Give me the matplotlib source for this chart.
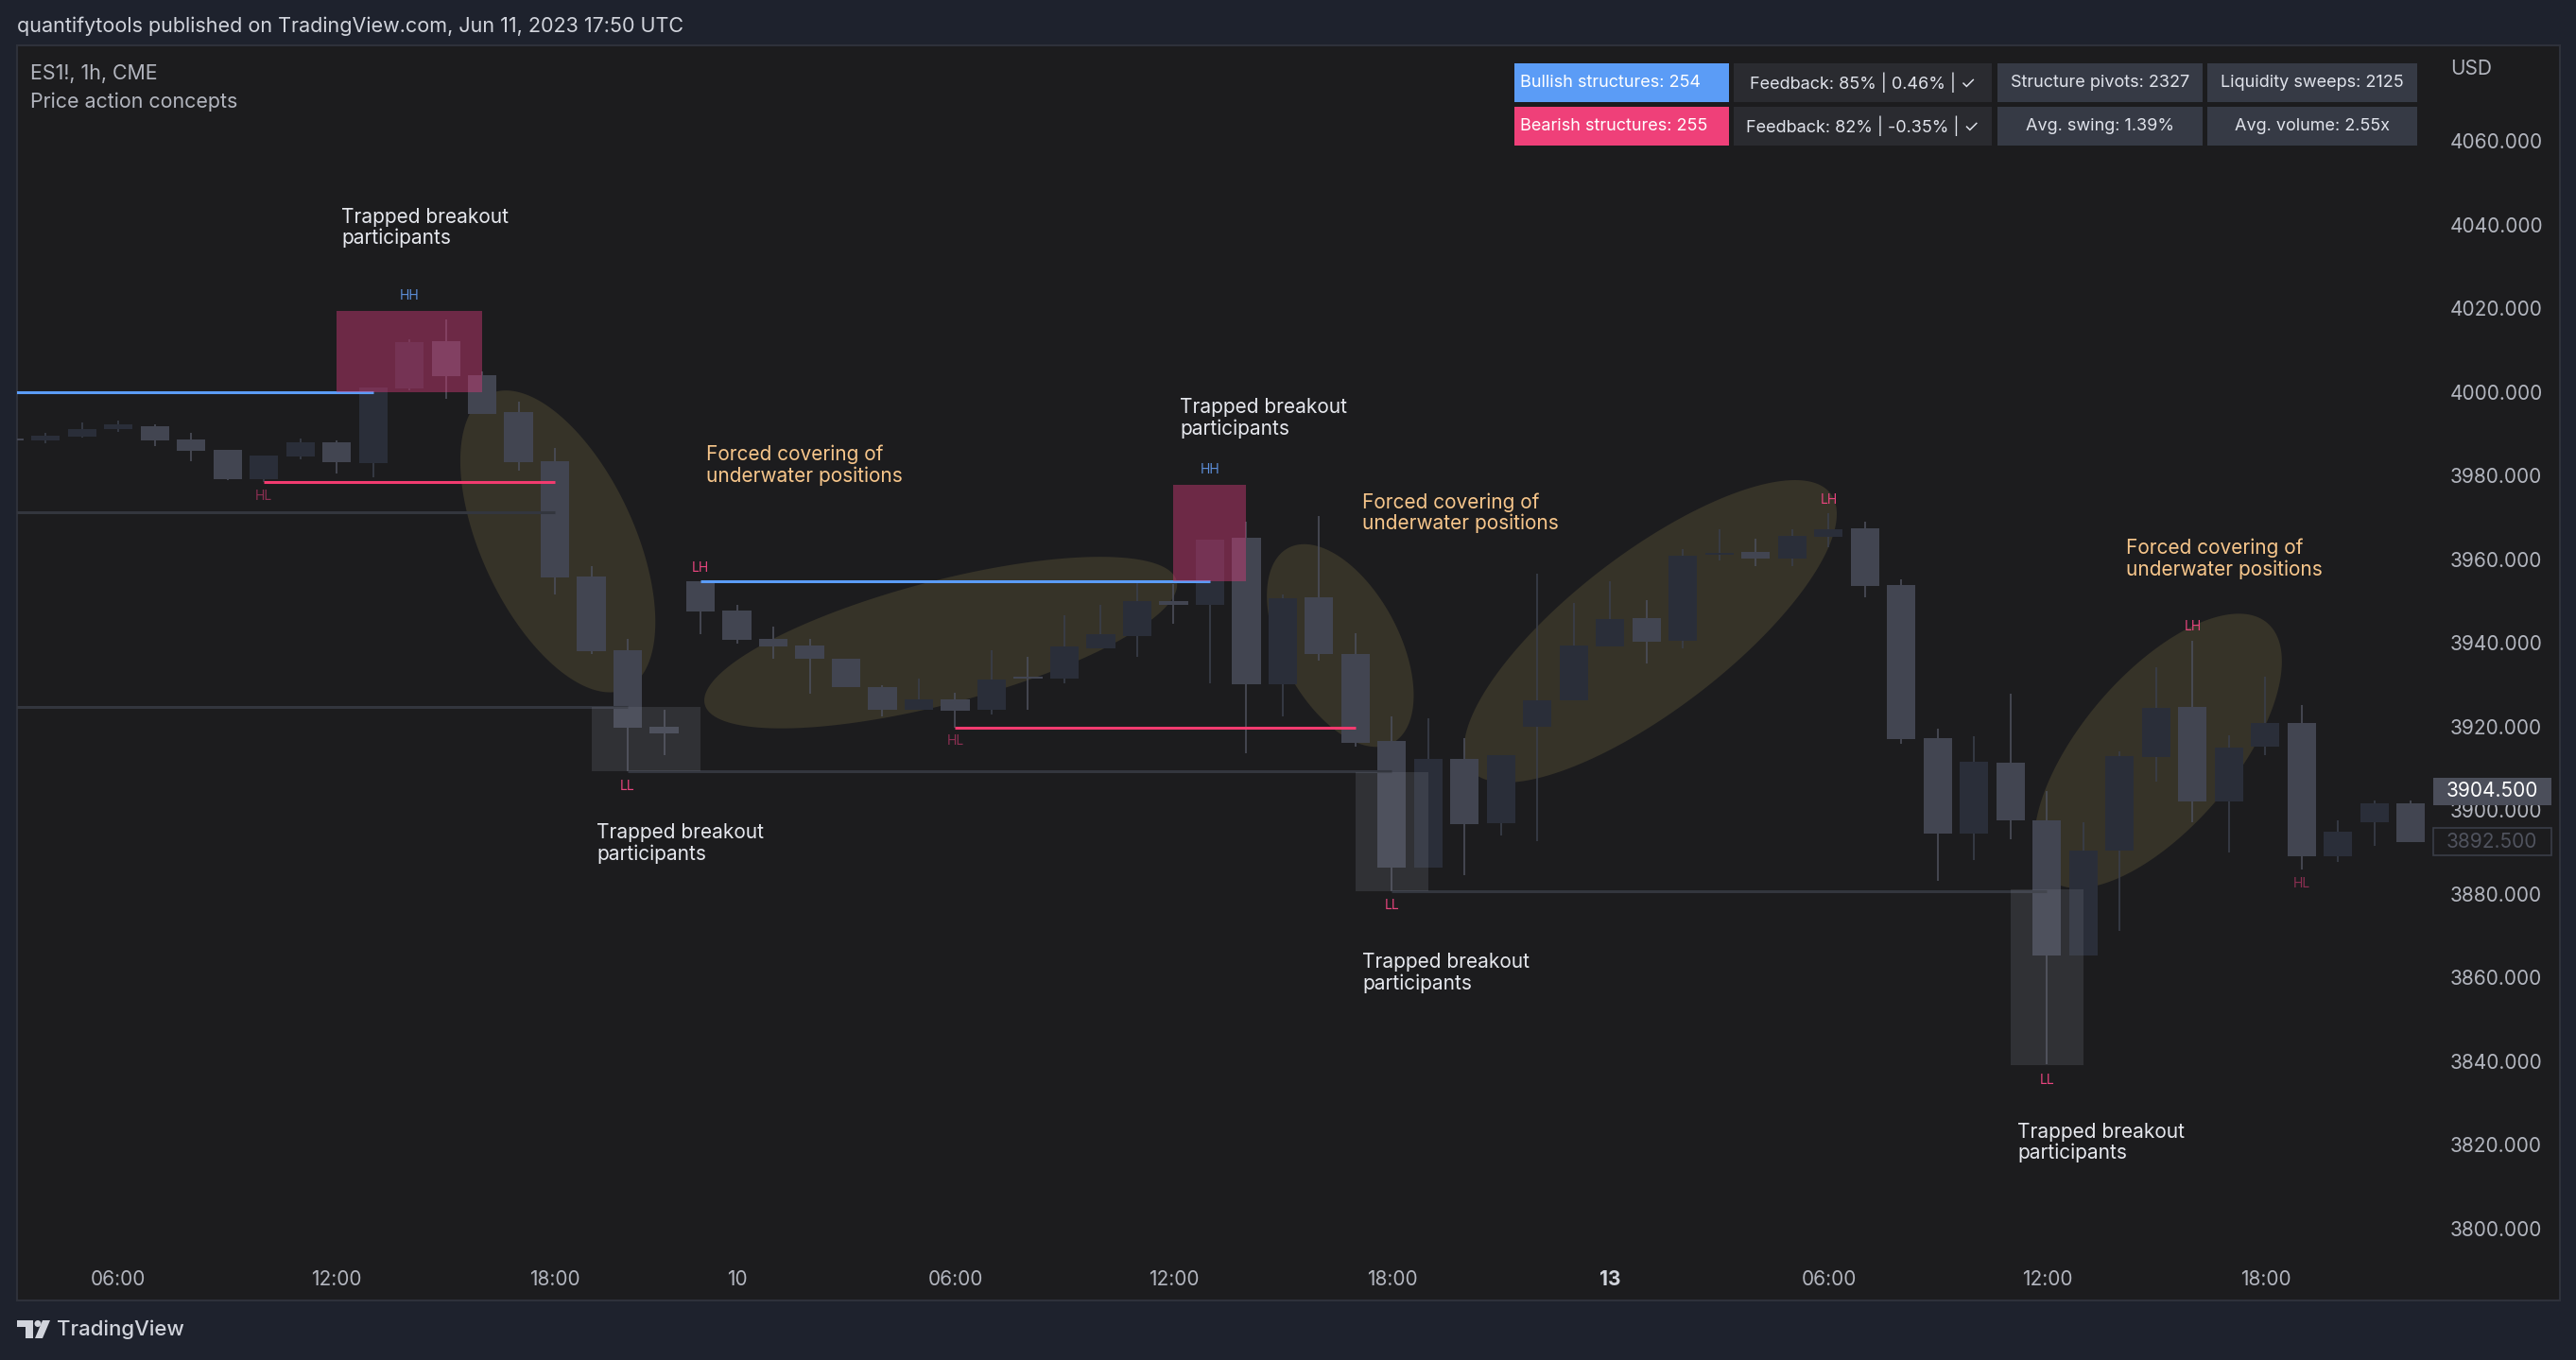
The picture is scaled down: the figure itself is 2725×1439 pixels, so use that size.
import numpy as np
import matplotlib
matplotlib.use("Agg")
import matplotlib.pyplot as plt
from matplotlib.patches import Rectangle, Polygon, Circle
from matplotlib import transforms

plt.rcParams['font.family'] = ['Inter', 'DejaVu Sans']

W, H = 2725, 1439

# ---- candles (1h bars, index 0 = first 06:00) ----
bars = list(range(-3, 64))
opens = [3988.6, 3988.5, 3989.3, 3991.2, 3991.8, 3988.7, 3986.2, 3979.2, 3984.7, 3988.0,
         3983.1, 4000.9, 4012.2, 4004.0, 3995.2, 3983.5, 3955.9, 3938.3, 3920.0, 3954.8,
         3947.8, 3941.0, 3939.5, 3936.2, 3929.4, 3924.0, 3926.6, 3924.1, 3932.0, 3931.6,
         3938.7, 3941.7, 3950.0, 3949.2, 3965.2, 3930.2, 3950.9, 3937.4, 3916.6, 3886.4,
         3912.3, 3896.9, 3919.9, 3926.3, 3939.1, 3946.0, 3940.5, 3961.1, 3961.8, 3960.1,
         3965.3, 3967.5, 3953.8, 3917.2, 3894.4, 3911.4, 3897.7, 3865.2, 3890.3, 3912.8,
         3924.8, 3902.2, 3915.2, 3920.9, 3889.0, 3897.2, 3901.7]
highs = [3988.6, 3990.3, 3992.7, 3993.2, 3992.3, 3990.3, 3986.2, 3984.8, 3988.9, 3988.5,
         4001.2, 4012.6, 4017.4, 4005.0, 3997.6, 3986.7, 3958.4, 3941.1, 3924.0, 3954.8,
         3949.2, 3943.9, 3941.1, 3936.2, 3929.9, 3931.4, 3928.2, 3938.2, 3936.6, 3946.6,
         3949.2, 3955.0, 3954.0, 3964.7, 3968.9, 3951.5, 3970.4, 3942.3, 3922.5, 3922.0,
         3917.3, 3913.2, 3956.6, 3949.6, 3954.8, 3950.3, 3962.5, 3967.2, 3964.9, 3967.2,
         3971.0, 3969.0, 3955.2, 3919.5, 3917.8, 3927.9, 3904.6, 3897.2, 3914.0, 3934.2,
         3940.5, 3918.0, 3931.9, 3925.1, 3897.7, 3902.4, 3902.4]
lows = [3988.4, 3987.7, 3989.1, 3990.4, 3987.1, 3983.5, 3978.9, 3978.5, 3983.9, 3980.5,
        3979.7, 4000.5, 3998.4, 3994.8, 3981.3, 3951.6, 3937.4, 3909.3, 3913.1, 3942.1,
        3939.9, 3936.2, 3927.8, 3929.4, 3922.5, 3924.0, 3919.7, 3922.9, 3924.1, 3930.4,
        3938.7, 3936.8, 3944.5, 3930.4, 3913.6, 3922.5, 3935.8, 3915.2, 3880.7, 3886.4,
        3884.6, 3893.9, 3892.7, 3926.3, 3939.1, 3935.2, 3938.8, 3959.8, 3958.3, 3958.3,
        3962.9, 3951.0, 3915.9, 3883.2, 3888.1, 3893.1, 3839.3, 3865.2, 3871.1, 3906.8,
        3897.2, 3890.0, 3913.2, 3885.9, 3887.6, 3891.6, 3892.3]
closes = [3988.4, 3989.6, 3991.2, 3992.3, 3988.4, 3986.0, 3979.2, 3984.8, 3988.0, 3983.3,
          4001.2, 4011.9, 4003.9, 3994.8, 3983.3, 3955.7, 3938.1, 3919.8, 3918.4, 3947.6,
          3940.8, 3939.2, 3936.2, 3929.4, 3924.1, 3926.6, 3923.9, 3931.3, 3931.6, 3939.1,
          3942.1, 3950.0, 3949.2, 3964.7, 3930.2, 3950.7, 3937.3, 3916.2, 3886.4, 3912.3,
          3896.7, 3913.2, 3926.3, 3939.5, 3945.8, 3940.4, 3960.9, 3961.6, 3960.3, 3965.6,
          3967.2, 3953.6, 3917.1, 3894.4, 3911.5, 3897.6, 3865.2, 3890.3, 3913.0, 3924.6,
          3902.2, 3915.0, 3920.8, 3889.0, 3895.0, 3901.6, 3892.3]

tick_bars = [0, 6, 12, 17, 23, 29, 35, 41, 47, 53, 59]
tick_labels = ['06:00', '12:00', '18:00', '10', '06:00', '12:00', '18:00', '13',
               '06:00', '12:00', '18:00']
price_ticks = list(range(3800, 4061, 20))

# market structure labels
struct_names = ['HH', 'HL', 'LL', 'LH', 'HL', 'HH', 'LL', 'LH', 'LL', 'LH', 'HL']
struct_bars = [8, 4, 14, 16, 23, 30, 35, 47, 53, 57, 60]
struct_prices = [4023.0, 3975.0, 3905.8, 3958.0, 3916.5, 3981.4, 3877.3, 3974.3,
                 3835.5, 3944.0, 3882.4]

# structure levels
level_start = [-4, 4, -4, -4, 14, 16, 23, 35]
level_end = [7, 12, 12, 14, 35, 30, 34, 53]
level_price = [4000.0, 3978.5, 3971.3, 3924.8, 3909.3, 3954.8, 3919.7, 3880.7]
level_kind = ['bull', 'bear', 'flat', 'flat', 'flat', 'bull', 'bear', 'flat']

# trapped zones
box_start = [6, 29, 13, 34, 52]
box_end = [10, 31, 16, 36, 54]
box_low = [4000.0, 3954.8, 3909.3, 3880.7, 3839.1]
box_high = [4019.5, 3977.9, 3924.8, 3909.2, 3881.0]
box_kind = ['hh', 'hh', 'll', 'll', 'll']

# text notes
trap_bars = [6.13, 29.17, 13.14, 34.18, 52.18]
trap_prices = [4039.3, 3993.8, 3892.1, 3861.1, 3820.6]
forced_bars = [16.15, 34.18, 55.17]
forced_prices = [3982.5, 3971.1, 3960.1]

# highlighted ellipses: centre bar, centre price, semi axes (px), angle
zone_bar = [12.08, 22.6, 33.58, 42.1, 56.05]
zone_price = [3964.3, 3940.1, 3939.4, 3942.8, 3914.2]
zone_a = [172, 258, 117, 240, 178]
zone_b = [81, 65, 62, 83, 81]
zone_ang = [-65.1, 14.7, -61.9, 37.4, 49.5]

table_row1 = ["Bullish structures: 254", "Feedback: 85% | 0.46% | \u2713",
              "Structure pivots: 2327", "Liquidity sweeps: 2125"]
table_row2 = ["Bearish structures: 255", "Feedback: 82% | -0.35% | \u2713",
              "Avg. swing: 1.39%", "Avg. volume: 2.55x"]

last_prices = [3904.5, 3892.5]

# ---- colours ----
BG_OUT = '#1e222d'
BG = '#1c1c1e'
BEAR = '#424551'
BULL = '#2a2e39'
WICK_BEAR = '#4b4e5a'
WICK_BULL = '#3a3e4a'
BLUE = '#5b9cf6'
PINK = '#f23b6f'
GRAYLINE = '#33363e'
ZONE = '#363328'
TXT = '#d1d4dc'
AXTXT = '#b2b5be'
ORANGE = '#f7c68b'

fig = plt.figure(figsize=(W / 100, H / 100), dpi=100, facecolor=BG_OUT)
pix = transforms.Affine2D().scale(1 / W, -1 / H).translate(0, 1) + fig.transFigure

# panel
fig.patches.append(Rectangle((18, 48), 2690, 1328, transform=pix, facecolor=BG,
                             edgecolor='#2e313a', lw=1.5, zorder=-5))

ax_l, ax_t, ax_r, ax_b = 18, 48, 2567, 1330
ax = fig.add_axes([ax_l / W, 1 - ax_b / H, (ax_r - ax_l) / W, (ax_b - ax_t) / H])
ax.set_facecolor('none')
ax.set_zorder(1)
x0, x1 = -2.78, 63.43
y0, y1 = 3793.2, 4082.9
ax.set_xlim(x0, x1)
ax.set_ylim(y0, y1)
for s in ax.spines.values():
    s.set_visible(False)

ppb = (ax_r - ax_l) / (x1 - x0)
ppp = (ax_b - ax_t) / (y1 - y0)

# ellipses
t = np.linspace(0, 2 * np.pi, 240)
for cx, cy, a, b, ang in zip(zone_bar, zone_price, zone_a, zone_b, zone_ang):
    th = np.radians(ang)
    dx = a * np.cos(t) * np.cos(th) - b * np.sin(t) * np.sin(th)
    dy = a * np.cos(t) * np.sin(th) + b * np.sin(t) * np.cos(th)
    ax.fill(cx + dx / ppb, cy + dy / ppp, color=ZONE, lw=0, zorder=1)

# candles
x = np.array(bars)
o = np.array(opens)
c = np.array(closes)
hi = np.array(highs)
lo = np.array(lows)
up = c > o
body_lo = np.minimum(o, c)
body_h = np.maximum(np.abs(c - o), 0.4)
ax.vlines(x[up], lo[up], hi[up], color=WICK_BULL, lw=1.2, zorder=3)
ax.vlines(x[~up], lo[~up], hi[~up], color=WICK_BEAR, lw=1.2, zorder=3)
ax.bar(x[up], body_h[up], bottom=body_lo[up], width=0.78, color=BULL, lw=0, zorder=4)
ax.bar(x[~up], body_h[~up], bottom=body_lo[~up], width=0.78, color=BEAR, lw=0, zorder=4)

# levels
for xs, xe, p, k in zip(level_start, level_end, level_price, level_kind):
    col = {'bull': BLUE, 'bear': PINK, 'flat': GRAYLINE}[k]
    ax.plot([xs, xe], [p, p], color=col, lw=2.2, solid_capstyle='butt', zorder=5)

# boxes
for xs, xe, bl, bh, k in zip(box_start, box_end, box_low, box_high, box_kind):
    if k == 'hh':
        ax.add_patch(Rectangle((xs, bl), xe - xs, bh - bl, facecolor='#d23b77',
                               alpha=0.45, lw=0, zorder=6))
    else:
        ax.add_patch(Rectangle((xs, bl), xe - xs, bh - bl, facecolor='#7a7d88',
                               alpha=0.22, lw=0, zorder=6))

# structure labels
for n, b, p in zip(struct_names, struct_bars, struct_prices):
    col = {'HH': '#5d8fdb', 'HL': '#8c2f52', 'LL': '#e8457e', 'LH': '#e8457e'}[n]
    ax.text(b, p, n, color=col, fontsize=10, ha='center', va='center', zorder=7)

for b, p in zip(trap_bars, trap_prices):
    ax.text(b, p, "Trapped breakout\nparticipants", color='#e6e8ee', fontsize=15,
            ha='left', va='center', linespacing=1.12, zorder=7)
for b, p in zip(forced_bars, forced_prices):
    ax.text(b, p, "Forced covering of\nunderwater positions", color=ORANGE, fontsize=15,
            ha='left', va='center', linespacing=1.12, zorder=7)

# axes ticks
ax.set_xticks(tick_bars)
ax.set_xticklabels(tick_labels)
ax.tick_params(axis='x', length=0, pad=10, labelsize=15, labelcolor=AXTXT)
for lab in ax.get_xticklabels():
    if lab.get_text() == '13':
        lab.set_fontweight('bold')
        lab.set_color('#d1d4dc')
ax.yaxis.tick_right()
ax.set_yticks(price_ticks)
ax.set_yticklabels([f"{p:.3f}" for p in price_ticks])
ax.tick_params(axis='y', length=0, pad=18, labelsize=15, labelcolor=AXTXT)

# last price tags
blend = transforms.blended_transform_factory(fig.transFigure, ax.transData)
tag_h = 29 / ppp
ax.add_patch(Rectangle((2574 / W, last_prices[0] - tag_h / 2), 125 / W, tag_h,
                       transform=blend, facecolor='#4b4e5a', lw=0, clip_on=False, zorder=8))
ax.text(2636 / W, last_prices[0], f"{last_prices[0]:.3f}", transform=blend, color='#ffffff',
        fontsize=15, ha='center', va='center', zorder=9)
ax.add_patch(Rectangle((2574 / W, last_prices[1] - tag_h / 2), 125 / W, tag_h,
                       transform=blend, facecolor=BG, edgecolor='#3a3d48', lw=1.2,
                       clip_on=False, zorder=8))
ax.text(2636 / W, last_prices[1], f"{last_prices[1]:.3f}", transform=blend, color='#50535e',
        fontsize=15, ha='center', va='center', zorder=9)

fig.text(2592 / W, 1 - 73 / H, "USD", color=AXTXT, fontsize=15, ha='left', va='center')

# header / legend texts
fig.text(18 / W, 1 - 28 / H, "quantifytools published on TradingView.com, Jun 11, 2023 17:50 UTC",
         color=TXT, fontsize=15.5, ha='left', va='center')
fig.text(32 / W, 1 - 78 / H, "ES1!, 1h, CME", color=AXTXT, fontsize=15.4, ha='left', va='center')
fig.text(32 / W, 1 - 108 / H, "Price action concepts", color=AXTXT, fontsize=15.4,
         ha='left', va='center')

# stats table
col_x = [1602, 1834, 2113, 2335]
col_w = [227, 273, 217, 222]
row_y = [67, 113]
row_h = 41
cell_bg = [[BLUE, '#2a2b30', '#363a45', '#363a45'],
           ['#ef4079', '#2a2b30', '#363a45', '#363a45']]
for r, row in enumerate([table_row1, table_row2]):
    for j, txt in enumerate(row):
        fig.patches.append(Rectangle((col_x[j], row_y[r]), col_w[j], row_h, transform=pix,
                                     facecolor=cell_bg[r][j], lw=0, zorder=2))
        if j == 0:
            fig.text((col_x[j] + 6) / W, 1 - (row_y[r] + row_h / 2) / H, txt, color='#ffffff',
                     fontsize=13, ha='left', va='center', zorder=3)
        else:
            fig.text((col_x[j] + col_w[j] / 2) / W, 1 - (row_y[r] + row_h / 2) / H, txt,
                     color='#e0e3eb', fontsize=13, ha='center', va='center', zorder=3)

# TradingView logo
fig.patches.append(Polygon([(18, 1397), (35, 1397), (35, 1416), (27, 1416), (27, 1404), (18, 1404)],
                           closed=True, transform=pix, facecolor=TXT, lw=0))
fig.patches.append(Circle((40, 1400.5), 3.5, transform=pix, facecolor=TXT, lw=0))
fig.patches.append(Polygon([(45, 1397), (53, 1397), (45, 1416), (37, 1416)],
                           closed=True, transform=pix, facecolor=TXT, lw=0))
fig.text(60 / W, 1 - 1407 / H, "TradingView", color=TXT, fontsize=16, fontweight='medium',
         ha='left', va='center')

fig.savefig("out.png", dpi=100, facecolor=BG_OUT)
